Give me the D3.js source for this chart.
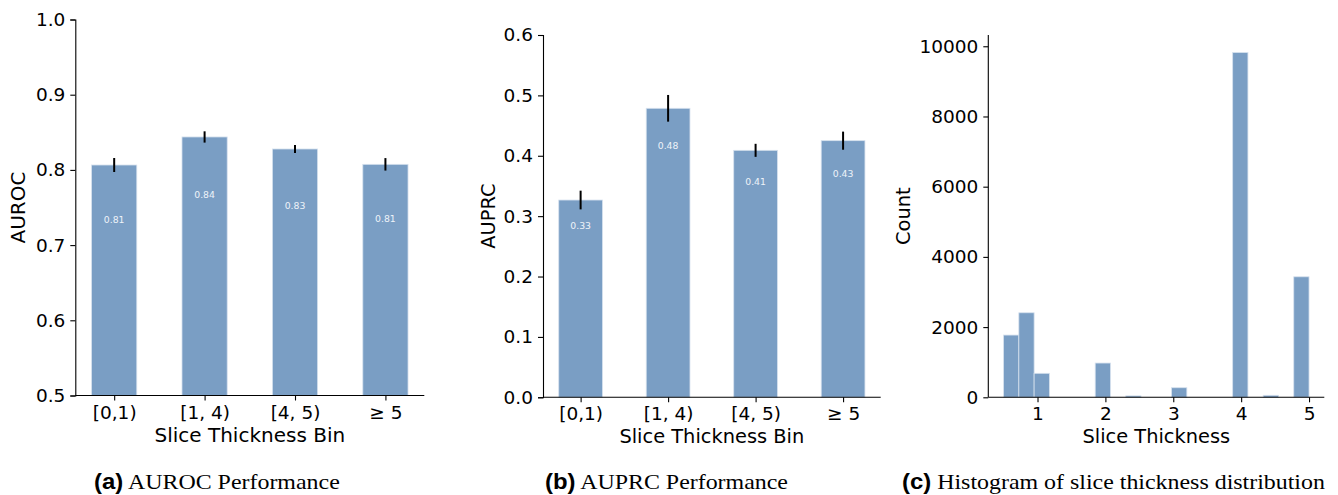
<!DOCTYPE html>
<html><head><meta charset="utf-8">
<script src="https://cdn.jsdelivr.net/npm/d3@7"></script>
<style>
body{margin:0;background:#fff;}
svg{display:block;}
text{font-family:"DejaVu Sans",sans-serif;fill:#000;}
</style></head><body>
<svg id="c" width="1338" height="495"></svg>
<script>
// ---- data ----
const binLabels = ["[0,1)", "[1, 4)", "[4, 5)", "\u2265 5"];
const aurocValues = [0.8065, 0.8438, 0.8278, 0.8074];
const aurocErr = [0.0093, 0.0075, 0.0053, 0.0083];
const aurocText = ["0.81", "0.84", "0.83", "0.81"];
const auprcValues = [0.3267, 0.4786, 0.4090, 0.4250];
const auprcErr = [0.0155, 0.0221, 0.0108, 0.0150];
const auprcText = ["0.33", "0.48", "0.41", "0.43"];
const aurocTicks = [0.5, 0.6, 0.7, 0.8, 0.9, 1.0];
const auprcTicks = [0.0, 0.1, 0.2, 0.3, 0.4, 0.5, 0.6];
const histEdges = [0.5,0.725,0.95,1.175,1.4,1.625,1.85,2.075,2.3,2.525,2.75,2.975,3.2,3.425,3.65,3.875,4.1,4.325,4.55,4.775,5.0];
const histCounts = [1773,2408,683,0,0,0,976,0,40,0,0,273,0,0,0,9821,0,57,0,3433];
const histXTicks = [1,2,3,4,5];
const histYTicks = [0,2000,4000,6000,8000,10000];

const svg = d3.select("#c");
const BAR = "#7a9ec4", EDGE = "#d6e1ee";
const FS = 18.5;

function styleAxis(g){
  g.selectAll("path.domain").attr("stroke","#000").attr("stroke-width",1.1);
  g.selectAll(".tick line").attr("stroke","#000").attr("stroke-width",1.1);
  g.selectAll(".tick text").attr("font-size",FS).attr("font-family","DejaVu Sans").attr("fill","#000");
}

function barPanel(opt){
  const x = d3.scaleLinear().domain([-0.43, 3.43]).range([opt.x0, opt.x1]);
  const y = d3.scaleLinear().domain(opt.yDomain).range([opt.y0, opt.y1]);
  const g = svg.append("g");
  const idx = d3.range(opt.values.length);
  g.selectAll("rect.bar").data(idx).join("rect")
    .attr("x", i => x(i - 0.25)).attr("width", x(0.5) - x(0))
    .attr("y", i => y(opt.values[i])).attr("height", i => y(opt.yDomain[0]) - y(opt.values[i]))
    .attr("fill", BAR).attr("stroke", EDGE).attr("stroke-width", 0.8);
  g.selectAll("line.err").data(idx).join("line")
    .attr("x1", i => x(i)).attr("x2", i => x(i))
    .attr("y1", i => y(opt.values[i] + opt.err[i])).attr("y2", i => y(opt.values[i] - opt.err[i]))
    .attr("stroke", "#000").attr("stroke-width", 2);
  g.selectAll("text.val").data(idx).join("text")
    .attr("x", i => x(i)).attr("y", i => y(opt.values[i] * opt.labelFactor))
    .attr("text-anchor","middle").attr("dominant-baseline","central")
    .attr("font-size", 9.3).style("fill", "#eef3f9").text(i => opt.text[i]);
  const ya = g.append("g").attr("transform", `translate(${opt.x0},0)`)
    .call(d3.axisLeft(y).tickValues(opt.ticks).tickFormat(d3.format(".1f")).tickSize(5).tickPadding(5));
  styleAxis(ya);
  const xa = g.append("g").attr("transform", `translate(0,${opt.y0})`)
    .call(d3.axisBottom(x).tickValues(idx).tickFormat(i => binLabels[i]).tickSize(5).tickPadding(5));
  xa.select("path.domain").attr("d", `M${opt.x0},0H${opt.x1}`);
  styleAxis(xa);
  g.append("text").attr("x", (opt.x0 + opt.x1) / 2).attr("y", opt.xLabelY)
    .attr("text-anchor","middle").attr("dominant-baseline","central").attr("font-size", opt.labelFS).text("Slice Thickness Bin");
  g.append("text").attr("transform", `translate(${opt.yLabelX},${(opt.y0 + opt.y1) / 2}) rotate(-90)`)
    .attr("text-anchor","middle").attr("dominant-baseline","central").attr("font-size", opt.labelFS).text(opt.yLabel);
}

barPanel({x0:75.3, x1:424.3, y0:395.5, y1:19.5, yDomain:[0.5,1.0], ticks:aurocTicks,
  values:aurocValues, err:aurocErr, text:aurocText, labelFactor:0.91,
  xLabelY:435, yLabelX:18, yLabel:"AUROC", labelFS:20});
barPanel({x0:543, x1:880.7, y0:397.3, y1:35, yDomain:[0,0.6], ticks:auprcTicks,
  values:auprcValues, err:auprcErr, text:auprcText, labelFactor:0.872,
  xLabelY:436.5, yLabelX:488.5, yLabel:"AUPRC", labelFS:19.4});

// histogram
(function(){
  const x0 = 988.3, x1 = 1324.3, y0 = 397.3, y1 = 35;
  const x = d3.scaleLinear().domain([0.275, 5.225]).range([x0, x1]);
  const y = d3.scaleLinear().domain([0, 10321]).range([y0, y1]);
  const g = svg.append("g");
  const idx = d3.range(histCounts.length).filter(i => histCounts[i] > 0);
  g.selectAll("rect").data(idx).join("rect")
    .attr("x", i => x(histEdges[i])).attr("width", i => x(histEdges[i+1]) - x(histEdges[i]))
    .attr("y", i => y(histCounts[i])).attr("height", i => y(0) - y(histCounts[i]))
    .attr("fill", BAR).attr("stroke", EDGE).attr("stroke-width", 0.8);
  const ya = g.append("g").attr("transform", `translate(${x0},0)`)
    .call(d3.axisLeft(y).tickValues(histYTicks).tickFormat(d3.format("d")).tickSize(5).tickPadding(5));
  ya.select("path.domain").attr("d", `M0,${y0}V${y1}`);
  styleAxis(ya);
  const xa = g.append("g").attr("transform", `translate(0,${y0})`)
    .call(d3.axisBottom(x).tickValues(histXTicks).tickFormat(d3.format("d")).tickSize(5).tickPadding(5));
  xa.select("path.domain").attr("d", `M${x0},0H${x1}`);
  styleAxis(xa);
  g.append("text").attr("x", (x0 + x1) / 2).attr("y", 436.5)
    .attr("text-anchor","middle").attr("dominant-baseline","central").attr("font-size", 19.4).text("Slice Thickness");
  g.append("text").attr("transform", `translate(903,${(y0 + y1) / 2}) rotate(-90)`)
    .attr("text-anchor","middle").attr("dominant-baseline","central").attr("font-size", 19.4).text("Count");
})();

// captions
const captions = [
  {x: 94, w: 246, tag: "(a)", text: " AUROC Performance"},
  {x: 545, w: 243, tag: "(b)", text: " AUPRC Performance"},
  {x: 902, w: 423, tag: "(c)", text: " Histogram of slice thickness distribution"}
];
captions.forEach(c => {
  const gc = svg.append("g");
  const t = gc.append("text").attr("x", 0).attr("y", 0).attr("font-size", 22);
  t.append("tspan").style("font-family","Liberation Sans").attr("font-weight","bold").text(c.tag);
  t.append("tspan").style("font-family","Liberation Serif").text(c.text);
  const w = t.node().getComputedTextLength();
  gc.attr("transform", `translate(${c.x},489) scale(${c.w / w},1)`);
});
</script>
</body></html>
